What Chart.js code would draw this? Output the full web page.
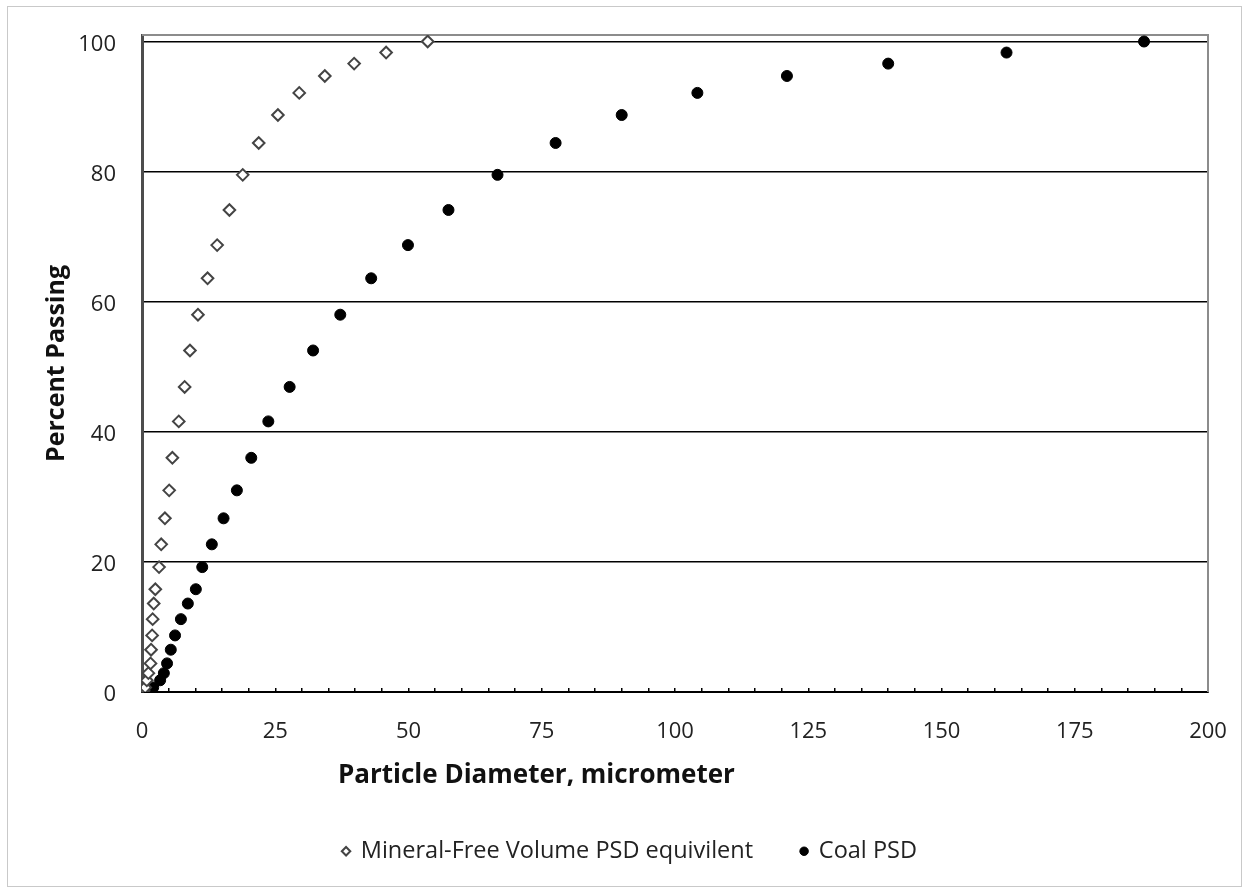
<!DOCTYPE html>
<html><head><meta charset="utf-8">
<script src="https://cdn.jsdelivr.net/npm/chart.js@4"></script>
<style>
html,body{margin:0;padding:0;background:#fff;}
#wrap{position:relative;width:1249px;height:888px;overflow:hidden;}
#frame{position:absolute;left:7px;top:6px;width:1233px;height:879px;border:1px solid #c9c9c9;pointer-events:none;}
canvas{position:absolute;left:0;top:0;}
</style></head><body>
<div id="wrap"><canvas id="c" width="1249" height="888"></canvas><div id="frame"></div></div>
<script>
// ---- data ----
const seriesNames = ['Mineral-Free Volume PSD equivilent', 'Coal PSD'];
const percentPassing = [0, 0.2, 0.7, 1.8, 2.9, 4.4, 6.5, 8.7, 11.2, 13.6, 15.8, 19.2, 22.7, 26.7, 31.0, 36.0, 41.6, 46.9, 52.5, 58.0, 63.6, 68.7, 74.1, 79.5, 84.4, 88.7, 92.1, 94.7, 96.6, 98.3, 100];
const mineralFreeDiameter = [0, 0.3, 0.6, 0.9, 1.2, 1.6, 1.7, 1.9, 2.0, 2.2, 2.5, 3.2, 3.6, 4.3, 5.1, 5.7, 6.9, 8.0, 9.0, 10.5, 12.3, 14.1, 16.4, 18.9, 21.9, 25.5, 29.5, 34.3, 39.8, 45.8, 53.6];
const coalDiameter = [0, 0.9, 2.1, 3.4, 4.1, 4.7, 5.4, 6.2, 7.3, 8.6, 10.1, 11.3, 13.1, 15.3, 17.8, 20.5, 23.7, 27.7, 32.1, 37.2, 43.0, 49.9, 57.5, 66.7, 77.6, 90.0, 104.2, 121.0, 140.0, 162.2, 188.0];
const xTickLabels = [0, 25, 50, 75, 100, 125, 150, 175, 200];
const yTickLabels = [0, 20, 40, 60, 80, 100];
const xTitle = 'Particle Diameter, micrometer';
const yTitle = 'Percent Passing';

const FONT = 'Open Sans';
const PAD = {left: 52, right: 41, top: 35, bottom: 15};
const AREA_LEFT = 142, AREA_BOTTOM = 692;

const toPoints = (xs) => xs.map((x, i) => ({x: x, y: percentPassing[i]}));

const framePlugin = {
  id: 'plotFrame',
  beforeDatasetsDraw(chart) {
    const {ctx, chartArea: a} = chart;
    ctx.save();
    ctx.strokeStyle = '#8c8c8c';
    ctx.lineWidth = 2;
    ctx.beginPath();
    ctx.moveTo(a.left, a.top);
    ctx.lineTo(a.right, a.top);
    ctx.lineTo(a.right, a.bottom);
    ctx.stroke();
    ctx.restore();
  },
  afterDraw(chart) {
    const {ctx, chartArea: a} = chart;
    const t = chart.options.scales.x.title;
    ctx.save();
    ctx.font = 'bold 26px "' + FONT + '"';
    ctx.fillStyle = '#111';
    ctx.textAlign = 'center';
    ctx.textBaseline = 'middle';
    ctx.fillText(t.text, a.left + 0.37 * (a.right - a.left), a.bottom + 84);
    ctx.restore();
  }
};

new Chart(document.getElementById('c'), {
  type: 'scatter',
  data: {
    datasets: [
      {
        label: seriesNames[0],
        data: toPoints(mineralFreeDiameter),
        pointStyle: 'rectRot',
        pointRadius: 5.8,
        pointBorderWidth: 2,
        borderColor: '#444',
        backgroundColor: '#fff',
        pointBackgroundColor: '#fff'
      },
      {
        label: seriesNames[1],
        data: toPoints(coalDiameter),
        pointStyle: 'circle',
        pointRadius: 5.5,
        pointBorderWidth: 1,
        borderColor: '#000',
        backgroundColor: '#000'
      }
    ]
  },
  options: {
    responsive: false,
    animation: false,
    devicePixelRatio: 1,
    layout: {padding: PAD},
    plugins: {
      tooltip: {enabled: false},
      legend: {
        position: 'bottom',
        align: 'center',
        labels: {
          usePointStyle: true,
          boxWidth: 6,
          boxHeight: 6,
          padding: 48,
          color: '#222',
          font: {family: FONT, size: 23.5}
        }
      }
    },
    scales: {
      x: {
        type: 'linear',
        min: 0,
        max: 200,
        ticks: {
          stepSize: 5,
          autoSkip: false,
          maxRotation: 0,
          padding: 16.5,
          color: '#222',
          font: {family: FONT, size: 22, lineHeight: 2.5},
          callback: (v) => xTickLabels.includes(v) ? String(v) : ''
        },
        grid: {drawOnChartArea: false, drawTicks: true, tickLength: -4, color: '#000', lineWidth: 1.5},
        border: {color: '#000', width: 2},
        title: {display: false, text: xTitle},
        afterFit(s) {
          const lh = s.chart.legend ? s.chart.legend.height : 0;
          s.height = 888 - PAD.bottom - lh - AREA_BOTTOM;
        }
      },
      y: {
        min: 0,
        max: 101,
        afterBuildTicks(axis) { axis.ticks = yTickLabels.map(v => ({value: v})); },
        ticks: {padding: 26, labelOffset: 3, color: '#222', font: {family: FONT, size: 22, lineHeight: 0.6}},
        grid: {color: '#000', lineWidth: 1.5, drawTicks: false},
        border: {color: '#4d4d4d', width: 3},
        title: {display: true, text: yTitle, color: '#111', font: {family: FONT, size: 25, weight: 'bold'}, padding: {top: -10, bottom: 0}},
        afterFit(s) { s.width = AREA_LEFT - PAD.left; }
      }
    }
  },
  plugins: [framePlugin]
});
</script>
</body></html>
